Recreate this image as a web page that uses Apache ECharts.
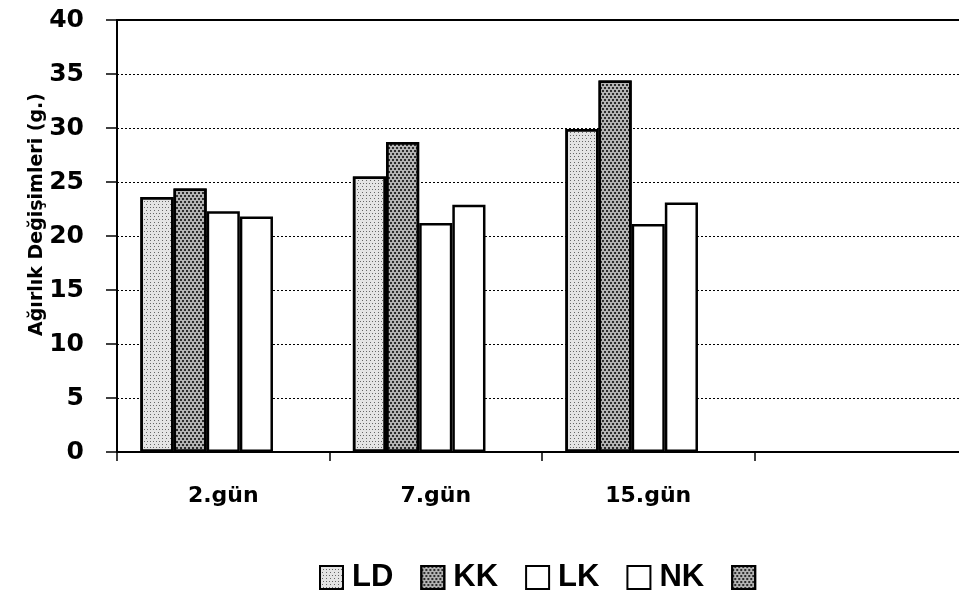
<!DOCTYPE html>
<html>
<head>
<meta charset="utf-8">
<script src="https://cdn.jsdelivr.net/npm/echarts@6/dist/echarts.min.js"></script>
<style>
  html, body { margin: 0; padding: 0; background: #fff; }
  #chart { width: 959px; height: 594px; }
</style>
</head>
<body>
<div id="chart"></div>
<script>
// Weight change per group on each measurement day
const categories = ['2.gün', '7.gün', '15.gün', ''];
const seriesNames = ['LD', 'KK', 'LK', 'NK', ' '];
const ldValues = [23.6, 25.5, 29.9, null];
const kkValues = [24.4, 28.7, 34.4, null];
const lkValues = [22.3, 21.2, 21.1, null];
const nkValues = [21.8, 22.9, 23.1, null];
const emptyValues = [null, null, null, null];
const yTicks = { min: 0, max: 40, interval: 5 };
const yTitle = 'Ağırlık Değişimleri (g.)';

const FONT = '"DejaVu Sans", "Liberation Sans", Arial, sans-serif';
const LEGEND_FONT = '"Liberation Sans", Arial, sans-serif';

const lightDots = {
  symbol: 'rect', symbolSize: 1, color: 'rgba(0,0,0,0.55)',
  dashArrayX: [[1, 2], [0, 1.5, 1, 0.5]], dashArrayY: [1, 1.2], rotation: 0
};
const darkDots = {
  symbol: 'rect', symbolSize: 1, color: 'rgba(0,0,0,0.75)',
  dashArrayX: [[1.2, 1.2], [0, 1.2, 1.2, 0]], dashArrayY: [1.2, 0.6], rotation: 0
};

const styles = [
  { color: '#e4e4e4', decal: lightDots },
  { color: '#b4b4b4', decal: darkDots },
  { color: '#ffffff' },
  { color: '#ffffff' },
  { color: '#b4b4b4', decal: darkDots }
];
const values = [ldValues, kkValues, lkValues, nkValues, emptyValues];

const chart = echarts.init(document.getElementById('chart'), null, { renderer: 'canvas' });

chart.setOption({
  animation: false,
  backgroundColor: '#ffffff',
  grid: {
    left: 117, top: 20, width: 850, height: 432,
    outerBoundsMode: 'none', containLabel: false,
    show: true, borderColor: '#000', borderWidth: 2, backgroundColor: 'transparent'
  },
  legend: {
    top: 557, left: 314,
    itemWidth: 23, itemHeight: 23, itemGap: 27,
    icon: 'rect',
    textStyle: { fontFamily: LEGEND_FONT, fontWeight: 'bold', fontSize: 31, color: '#000', padding: [0, 0, 0, 4] },
    data: seriesNames
  },
  xAxis: {
    type: 'category',
    data: categories,
    axisLine: { lineStyle: { color: '#000', width: 2 } },
    axisTick: { show: true, length: 9, lineStyle: { color: '#000', width: 1.5 } },
    axisLabel: { fontFamily: FONT, fontWeight: 'bold', fontSize: 22, color: '#000', margin: 33 },
    splitLine: { show: false }
  },
  yAxis: {
    type: 'value',
    min: yTicks.min, max: yTicks.max, interval: yTicks.interval,
    axisLine: { show: true, lineStyle: { color: '#000', width: 2 } },
    axisTick: { show: true, length: 11, lineStyle: { color: '#000', width: 1.5 } },
    axisLabel: { fontFamily: FONT, fontWeight: 'bold', fontSize: 25, color: '#000', margin: 33 },
    splitLine: { show: true, lineStyle: { color: '#000', width: 1, type: [2, 2] } }
  },
  graphic: [{
    type: 'text',
    left: 28, top: 93,
    rotation: Math.PI / 2,
    style: { text: yTitle, font: 'bold 19px ' + FONT, fill: '#000' }
  }],
  series: seriesNames.map((name, i) => ({
    name: name,
    type: 'bar',
    data: values[i],
    barGap: '0%',
    barCategoryGap: '22%',
    itemStyle: Object.assign({ borderColor: '#000', borderWidth: 2.5 }, styles[i])
  }))
});
</script>
</body>
</html>
